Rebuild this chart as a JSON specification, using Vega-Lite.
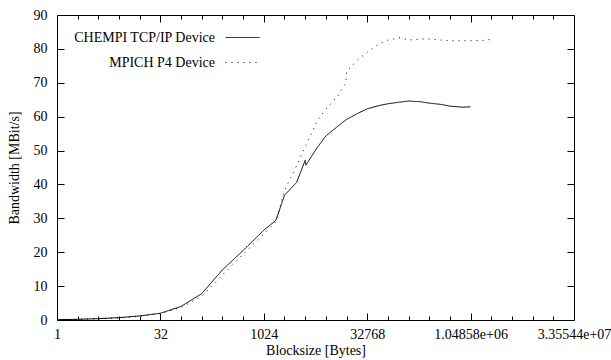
{
  "$schema": "https://vega.github.io/schema/vega-lite/v6.json",
  "width": 517,
  "height": 305,
  "autosize": "none",
  "padding": {"left": 57, "top": 15, "right": 37, "bottom": 40},
  "background": "white",
  "config": {
    "view": {"stroke": "black", "strokeWidth": 1},
    "font": "Liberation Serif",
    "axis": {"domain": false, "grid": false, "ticks": true, "tickOpacity": 1, "tickColor": "#000000", "tickWidth": 1, "labelColor": "black", "labelFont": "Liberation Serif", "labelFontSize": 14, "titleFont": "Liberation Serif", "titleFontSize": 14, "titleFontWeight": "normal", "titleColor": "black", "labelFlush": false, "labelOverlap": false}
  },
  "data": {
    "values": [
      {"device": "CHEMPI TCP/IP Device", "size": 1, "bw": 0.1},
      {"device": "CHEMPI TCP/IP Device", "size": 2, "bw": 0.2},
      {"device": "CHEMPI TCP/IP Device", "size": 4, "bw": 0.4},
      {"device": "CHEMPI TCP/IP Device", "size": 8, "bw": 0.7},
      {"device": "CHEMPI TCP/IP Device", "size": 16, "bw": 1.2},
      {"device": "CHEMPI TCP/IP Device", "size": 32, "bw": 2.0},
      {"device": "CHEMPI TCP/IP Device", "size": 64, "bw": 4.0},
      {"device": "CHEMPI TCP/IP Device", "size": 128, "bw": 7.8},
      {"device": "CHEMPI TCP/IP Device", "size": 256, "bw": 14.8},
      {"device": "CHEMPI TCP/IP Device", "size": 512, "bw": 20.5},
      {"device": "CHEMPI TCP/IP Device", "size": 1024, "bw": 26.5},
      {"device": "CHEMPI TCP/IP Device", "size": 1536, "bw": 29.4},
      {"device": "CHEMPI TCP/IP Device", "size": 2048, "bw": 36.8},
      {"device": "CHEMPI TCP/IP Device", "size": 3072, "bw": 40.6},
      {"device": "CHEMPI TCP/IP Device", "size": 4096, "bw": 47.1},
      {"device": "CHEMPI TCP/IP Device", "size": 4200, "bw": 45.7},
      {"device": "CHEMPI TCP/IP Device", "size": 6144, "bw": 50.9},
      {"device": "CHEMPI TCP/IP Device", "size": 8192, "bw": 54.3},
      {"device": "CHEMPI TCP/IP Device", "size": 12288, "bw": 57.2},
      {"device": "CHEMPI TCP/IP Device", "size": 16384, "bw": 59.2},
      {"device": "CHEMPI TCP/IP Device", "size": 24576, "bw": 61.1},
      {"device": "CHEMPI TCP/IP Device", "size": 32768, "bw": 62.3},
      {"device": "CHEMPI TCP/IP Device", "size": 49152, "bw": 63.3},
      {"device": "CHEMPI TCP/IP Device", "size": 65536, "bw": 63.8},
      {"device": "CHEMPI TCP/IP Device", "size": 98304, "bw": 64.3},
      {"device": "CHEMPI TCP/IP Device", "size": 131072, "bw": 64.6},
      {"device": "CHEMPI TCP/IP Device", "size": 196608, "bw": 64.4},
      {"device": "CHEMPI TCP/IP Device", "size": 262144, "bw": 64.0},
      {"device": "CHEMPI TCP/IP Device", "size": 393216, "bw": 63.6},
      {"device": "CHEMPI TCP/IP Device", "size": 524288, "bw": 63.1},
      {"device": "CHEMPI TCP/IP Device", "size": 786432, "bw": 62.8},
      {"device": "CHEMPI TCP/IP Device", "size": 1048576, "bw": 62.9},
      {"device": "MPICH P4 Device", "size": 1, "bw": 0.1},
      {"device": "MPICH P4 Device", "size": 2, "bw": 0.2},
      {"device": "MPICH P4 Device", "size": 4, "bw": 0.35},
      {"device": "MPICH P4 Device", "size": 8, "bw": 0.6},
      {"device": "MPICH P4 Device", "size": 16, "bw": 1.1},
      {"device": "MPICH P4 Device", "size": 32, "bw": 1.9},
      {"device": "MPICH P4 Device", "size": 64, "bw": 3.7},
      {"device": "MPICH P4 Device", "size": 128, "bw": 7.0},
      {"device": "MPICH P4 Device", "size": 256, "bw": 13.3},
      {"device": "MPICH P4 Device", "size": 512, "bw": 19.4},
      {"device": "MPICH P4 Device", "size": 1024, "bw": 25.4},
      {"device": "MPICH P4 Device", "size": 1536, "bw": 29.0},
      {"device": "MPICH P4 Device", "size": 2048, "bw": 38.2},
      {"device": "MPICH P4 Device", "size": 3072, "bw": 45.5},
      {"device": "MPICH P4 Device", "size": 4096, "bw": 51.0},
      {"device": "MPICH P4 Device", "size": 6144, "bw": 58.8},
      {"device": "MPICH P4 Device", "size": 8192, "bw": 62.2},
      {"device": "MPICH P4 Device", "size": 12288, "bw": 66.2},
      {"device": "MPICH P4 Device", "size": 16000, "bw": 70.0},
      {"device": "MPICH P4 Device", "size": 16384, "bw": 73.3},
      {"device": "MPICH P4 Device", "size": 24576, "bw": 77.0},
      {"device": "MPICH P4 Device", "size": 32768, "bw": 79.0},
      {"device": "MPICH P4 Device", "size": 49152, "bw": 81.5},
      {"device": "MPICH P4 Device", "size": 65536, "bw": 82.6},
      {"device": "MPICH P4 Device", "size": 98304, "bw": 83.3},
      {"device": "MPICH P4 Device", "size": 131072, "bw": 82.6},
      {"device": "MPICH P4 Device", "size": 196608, "bw": 82.9},
      {"device": "MPICH P4 Device", "size": 262144, "bw": 82.9},
      {"device": "MPICH P4 Device", "size": 393216, "bw": 82.6},
      {"device": "MPICH P4 Device", "size": 524288, "bw": 82.4},
      {"device": "MPICH P4 Device", "size": 786432, "bw": 82.4},
      {"device": "MPICH P4 Device", "size": 1048576, "bw": 82.4},
      {"device": "MPICH P4 Device", "size": 1572864, "bw": 82.5},
      {"device": "MPICH P4 Device", "size": 2097152, "bw": 82.8}
    ]
  },
  "layer": [
    {
      "mark": {"type": "line", "strokeWidth": 1, "color": "black"},
      "encoding": {
        "x": {
          "field": "size", "type": "quantitative",
          "scale": {"type": "log", "base": 2, "domain": [1, 33554432]},
          "axis": {
            "orient": "bottom",
            "values": [1, 32, 1024, 32768, 1048576, 33554432],
            "format": "d",
            "tickSize": 7, "offset": -7,
            "labelExpr": "datum.value == 1048576 ? '1.04858e+06' : (datum.value == 33554432 ? '3.35544e+07' : datum.label)",
            "labelPadding": 7,
            "title": "Blocksize [Bytes]",
            "titlePadding": 2
          }
        },
        "y": {
          "field": "bw", "type": "quantitative",
          "scale": {"domain": [0, 90]},
          "axis": {
            "orient": "left",
            "values": [0,10,20,30,40,50,60,70,80,90],
            "tickSize": 7, "offset": -7,
            "labelPadding": 10,
            "title": "Bandwidth [MBit/s]",
            "titlePadding": 12
          }
        },
        "strokeDash": {
          "field": "device", "type": "nominal",
          "scale": {"domain": ["CHEMPI TCP/IP Device", "MPICH P4 Device"], "range": [[1, 0], [1, 5]]},
          "legend": {
            "orient": "none", "legendX": 168, "legendY": 5, "title": null,
            "symbolType": "stroke", "symbolSize": 1156, "symbolStrokeWidth": 1, "symbolStrokeColor": "black", "symbolOpacity": 1,
            "labelAlign": "right", "labelOffset": -45, "labelFontSize": 14, "labelFont": "Liberation Serif", "labelColor": "black",
            "rowPadding": 0, "padding": 0
          }
        }
      }
    },
    {
      "mark": {"type": "line", "opacity": 0},
      "encoding": {
        "x": {
          "field": "size", "type": "quantitative",
          "scale": {"type": "log", "base": 2, "domain": [1, 33554432]},
          "axis": {"orient": "top", "values": [1, 32, 1024, 32768, 1048576, 33554432], "tickSize": 7, "offset": -7, "labels": false, "title": null}
        },
        "y": {
          "field": "bw", "type": "quantitative",
          "scale": {"domain": [0, 90]},
          "axis": {"orient": "right", "values": [0,10,20,30,40,50,60,70,80,90], "tickSize": 7, "offset": -7, "labels": false, "title": null}
        },
        "detail": {"field": "device", "type": "nominal"}
      }
    },
    {
      "mark": {"type": "line", "opacity": 0},
      "encoding": {
        "x": {
          "field": "size", "type": "quantitative",
          "scale": {"type": "log", "base": 2, "domain": [1, 33554432]},
          "axis": {"orient": "bottom", "values": [2,4,8,16,64,128,256,512,2048,4096,8192,16384,65536,131072,262144,524288,2097152,4194304,8388608,16777216], "tickSize": 4, "offset": -4, "labels": false, "title": null}
        },
        "y": {"field": "bw", "type": "quantitative", "scale": {"domain": [0, 90]}, "axis": null},
        "detail": {"field": "device", "type": "nominal"}
      }
    },
    {
      "mark": {"type": "line", "opacity": 0},
      "encoding": {
        "x": {
          "field": "size", "type": "quantitative",
          "scale": {"type": "log", "base": 2, "domain": [1, 33554432]},
          "axis": {"orient": "top", "values": [2,4,8,16,64,128,256,512,2048,4096,8192,16384,65536,131072,262144,524288,2097152,4194304,8388608,16777216], "tickSize": 4, "offset": -4, "labels": false, "title": null}
        },
        "y": {"field": "bw", "type": "quantitative", "scale": {"domain": [0, 90]}, "axis": null},
        "detail": {"field": "device", "type": "nominal"}
      }
    }
  ],
  "resolve": {"axis": {"x": "independent", "y": "independent"}}
}
